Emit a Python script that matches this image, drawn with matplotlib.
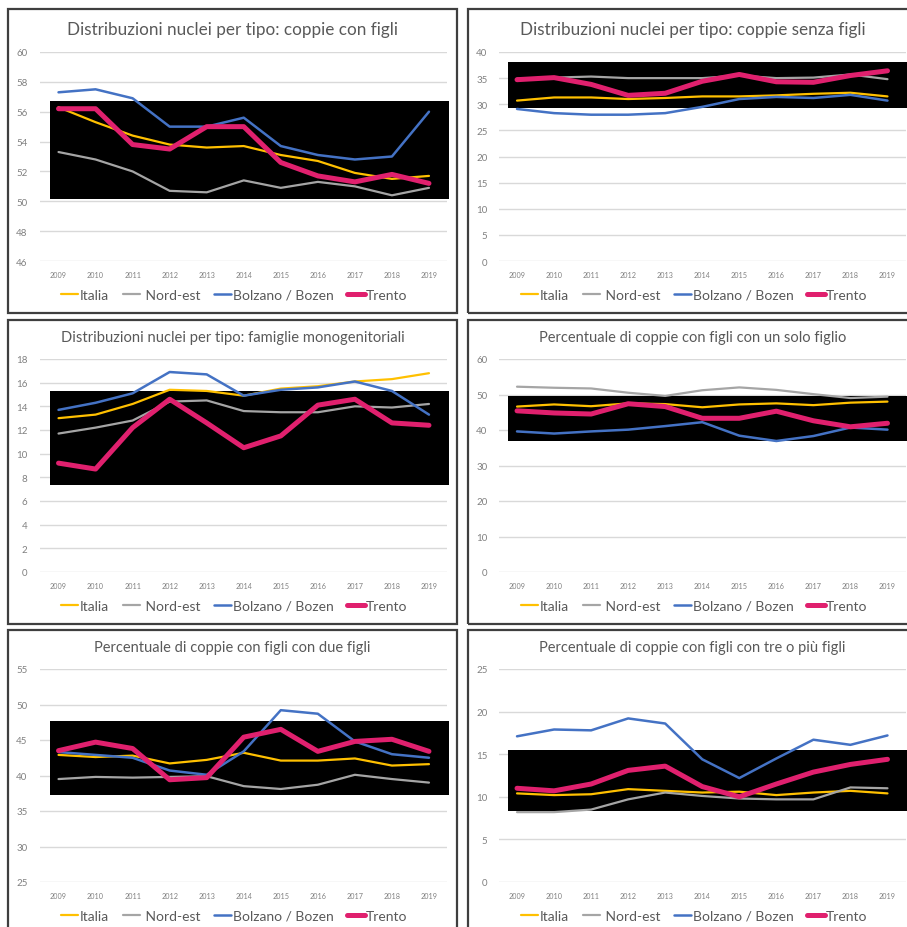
import matplotlib.pyplot as plt
from matplotlib.patches import Rectangle

plt.rcParams['font.family'] = ['Lato', 'DejaVu Sans']

years = list(range(2009, 2020))
series_names = ['Italia', 'Nord-est', 'Bolzano / Bozen', 'Trento']

# Distribuzioni nuclei per tipo: coppie con figli
con_figli_italia = [56.3, 55.3, 54.4, 53.8, 53.6, 53.7, 53.1, 52.7, 51.9, 51.5, 51.7]
con_figli_nordest = [53.3, 52.8, 52.0, 50.7, 50.6, 51.4, 50.9, 51.3, 51.0, 50.4, 50.9]
con_figli_bolzano = [57.3, 57.5, 56.9, 55.0, 55.0, 55.6, 53.7, 53.1, 52.8, 53.0, 56.0]
con_figli_trento = [56.2, 56.2, 53.8, 53.5, 55.0, 55.0, 52.6, 51.7, 51.3, 51.8, 51.2]

# Distribuzioni nuclei per tipo: coppie senza figli
senza_figli_italia = [30.7, 31.3, 31.3, 31.0, 31.2, 31.5, 31.5, 31.7, 32.0, 32.2, 31.5]
senza_figli_nordest = [34.9, 35.1, 35.3, 35.0, 35.0, 35.0, 35.5, 35.0, 35.1, 35.7, 34.8]
senza_figli_bolzano = [29.1, 28.3, 28.0, 28.0, 28.3, 29.5, 31.0, 31.4, 31.2, 31.8, 30.7]
senza_figli_trento = [34.7, 35.1, 33.8, 31.7, 32.1, 34.4, 35.7, 34.3, 34.2, 35.5, 36.4]

# Distribuzioni nuclei per tipo: famiglie monogenitoriali
monogen_italia = [13.0, 13.3, 14.2, 15.4, 15.3, 14.9, 15.5, 15.7, 16.1, 16.3, 16.8]
monogen_nordest = [11.7, 12.2, 12.8, 14.4, 14.5, 13.6, 13.5, 13.5, 14.0, 13.9, 14.2]
monogen_bolzano = [13.7, 14.3, 15.1, 16.9, 16.7, 14.9, 15.4, 15.6, 16.1, 15.3, 13.3]
monogen_trento = [9.2, 8.7, 12.2, 14.6, 12.6, 10.5, 11.5, 14.1, 14.6, 12.6, 12.4]

# Percentuale di coppie con figli con un solo figlio
un_figlio_italia = [46.6, 47.2, 46.7, 47.5, 47.3, 46.4, 47.2, 47.5, 47.0, 47.7, 48.0]
un_figlio_nordest = [52.2, 51.9, 51.7, 50.5, 49.6, 51.2, 52.0, 51.3, 50.1, 49.0, 49.4]
un_figlio_bolzano = [39.6, 39.0, 39.6, 40.1, 41.1, 42.2, 38.4, 36.9, 38.3, 40.7, 40.1]
un_figlio_trento = [45.4, 44.8, 44.5, 47.4, 46.6, 43.3, 43.3, 45.3, 42.6, 40.9, 41.9]

# Percentuale di coppie con figli con due figli
due_figli_italia = [42.9, 42.6, 42.8, 41.7, 42.2, 43.2, 42.1, 42.1, 42.4, 41.4, 41.6]
due_figli_nordest = [39.5, 39.8, 39.7, 39.8, 39.9, 38.5, 38.1, 38.7, 40.1, 39.5, 39.0]
due_figli_bolzano = [43.3, 42.9, 42.5, 40.7, 40.1, 43.4, 49.2, 48.7, 44.8, 43.0, 42.5]
due_figli_trento = [43.5, 44.7, 43.8, 39.4, 39.7, 45.4, 46.5, 43.4, 44.8, 45.1, 43.4]

# Percentuale di coppie con figli con tre o piu figli
tre_figli_italia = [10.4, 10.2, 10.3, 10.9, 10.7, 10.5, 10.6, 10.2, 10.5, 10.7, 10.4]
tre_figli_nordest = [8.2, 8.2, 8.5, 9.7, 10.5, 10.1, 9.8, 9.7, 9.7, 11.1, 11.0]
tre_figli_bolzano = [17.1, 17.9, 17.8, 19.2, 18.6, 14.4, 12.2, 14.5, 16.7, 16.1, 17.2]
tre_figli_trento = [11.0, 10.7, 11.5, 13.1, 13.6, 11.2, 10.0, 11.5, 12.9, 13.8, 14.4]

colors = ['#FFC000', '#A5A5A5', '#4472C4', '#E0206E']
widths = [1.6, 1.6, 1.8, 3.6]

W, H = 907, 928
fig = plt.figure(figsize=(W / 100, H / 100), dpi=100)


def fbox(x0, y0, x1, y1):
    # pixel box (top-left origin) -> figure fraction rect
    return [x0 / W, 1 - y1 / H, (x1 - x0) / W, (y1 - y0) / H]


panels = [
    dict(title='Distribuzioni nuclei per tipo: coppie con figli', tsize=12.3,
         data=[con_figli_italia, con_figli_nordest, con_figli_bolzano, con_figli_trento],
         ticks=range(46, 61, 2), band=(50.15, 56.7)),
    dict(title='Distribuzioni nuclei per tipo: coppie senza figli', tsize=12.3,
         data=[senza_figli_italia, senza_figli_nordest, senza_figli_bolzano, senza_figli_trento],
         ticks=range(0, 41, 5), band=(29.3, 38.1)),
    dict(title='Distribuzioni nuclei per tipo: famiglie monogenitoriali', tsize=10.6,
         data=[monogen_italia, monogen_nordest, monogen_bolzano, monogen_trento],
         ticks=range(0, 19, 2), band=(7.35, 15.3)),
    dict(title='Percentuale di coppie con figli con un solo figlio', tsize=10.5,
         data=[un_figlio_italia, un_figlio_nordest, un_figlio_bolzano, un_figlio_trento],
         ticks=range(0, 61, 10), band=(36.9, 49.6)),
    dict(title='Percentuale di coppie con figli con due figli', tsize=10.5,
         data=[due_figli_italia, due_figli_nordest, due_figli_bolzano, due_figli_trento],
         ticks=range(25, 56, 5), band=(37.25, 47.7)),
    dict(title='Percentuale di coppie con figli con tre o più figli', tsize=10.5,
         data=[tre_figli_italia, tre_figli_nordest, tre_figli_bolzano, tre_figli_trento],
         ticks=range(0, 26, 5), band=(8.33, 15.5)),
]

box_cols = [(8, 457), (468, 917)]
axes_cols = [(40, 447.5), (498.5, 906)]
box_rows = [(10, 314), (321, 625), (631, 935)]
axes_rows = [(53, 262), (360, 573), (670, 883)]
title_y = [30, 338, 648]

for i, p in enumerate(panels):
    r, c = divmod(i, 2)
    bx0, bx1 = box_cols[c]
    by0, by1 = box_rows[r]
    ax0, ax1 = axes_cols[c]
    ay0, ay1 = axes_rows[r]

    # panel frame
    fig.add_artist(Rectangle((bx0 / W, 1 - by1 / H), (bx1 - bx0) / W, (by1 - by0) / H,
                             transform=fig.transFigure, fill=False,
                             edgecolor='#3F3F3F', lw=1.6, clip_on=False))
    fig.text((bx0 + bx1) / 2 / W, 1 - title_y[r] / H, p['title'],
             ha='center', va='center', fontsize=p['tsize'], color='#595959')

    ax = fig.add_axes(fbox(ax0, ay0, ax1, ay1))
    ticks = list(p['ticks'])
    ax.set_xlim(2008.5, 2019.5)
    ax.set_ylim(ticks[0], ticks[-1])
    ax.set_yticks(ticks)
    ax.set_xticks(years)
    ax.set_xticklabels([str(y) for y in years], fontsize=5.2, color='#808080')
    ax.tick_params(axis='y', labelsize=7, colors='#808080', length=0, pad=9 if c == 0 else 8)
    ax.tick_params(axis='x', length=0, pad=7)
    for s in ax.spines.values():
        s.set_visible(False)
    ax.set_axisbelow(True)
    ax.yaxis.grid(True, color='#D9D9D9', lw=1.0)
    ax.patch.set_alpha(0)

    lo, hi = p['band']
    ax.add_patch(Rectangle((2008.76, lo), 12.0 if c == 1 else 10.79, hi - lo,
                           facecolor='black', edgecolor='none', zorder=1, clip_on=False))

    handles = []
    for vals, name, col, lw in zip(p['data'], series_names, colors, widths):
        ln, = ax.plot(years, vals, color=col, lw=lw, label=name, zorder=2,
                      solid_joinstyle='round', solid_capstyle='round', clip_on=False)
        handles.append(ln)

    leg = ax.legend(handles, ['Italia', ' Nord-est', 'Bolzano / Bozen', 'Trento'],
                    loc='center', ncol=4, frameon=False, fontsize=10,
                    bbox_to_anchor=((bx0 + bx1) / 2 / W + 0.002, 1 - (ay1 + 34) / H),
                    bbox_transform=fig.transFigure, handlelength=1.25,
                    handletextpad=0.1, columnspacing=1.0, borderpad=0)
    for t in leg.get_texts():
        t.set_color('#595959')

fig.savefig('out.png', dpi=100)
